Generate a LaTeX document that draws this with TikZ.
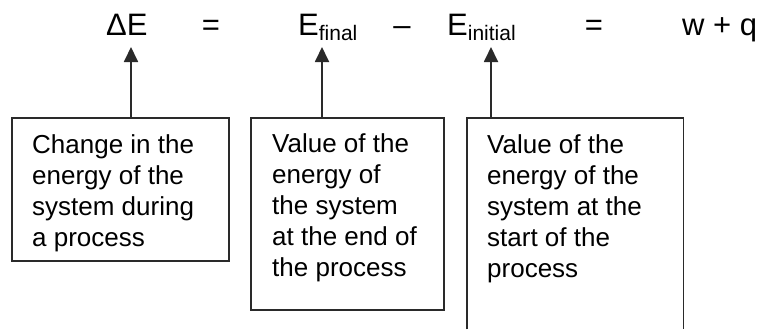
\documentclass[tikz,border=0pt]{standalone}
\usepackage{fontspec}
\setmainfont{Liberation Sans}
\usetikzlibrary{arrows.meta}
\definecolor{linegray}{HTML}{2A2A2A}
\tikzset{
  boxst/.style={draw=linegray, line width=1.6pt, rectangle, inner sep=0pt, anchor=north west},
  openbox/.style={rectangle, inner sep=0pt, anchor=north west},
  boxtext/.style={anchor=north west, inner sep=0pt, align=left, font=\fontsize{26}{31}\selectfont},
  eqtext/.style={inner sep=0pt, font=\fontsize{31}{31}\selectfont},
  arr/.style={draw=linegray, line width=1.8pt, -{Triangle[length=15pt,width=14pt]}},
}
\newcommand{\subtxt}[1]{\raisebox{-4.5pt}{\fontsize{21}{21}\selectfont #1}}
\begin{document}
\begin{tikzpicture}[x=1pt,y=-1pt]
\useasboundingbox (0,0) rectangle (762,329);
% equation
\node[eqtext, anchor=base west] (dE) at (106,36) {ΔE};
\node[eqtext, anchor=base] (eq1) at (211,36) {=};
\node[eqtext, anchor=base west] (Ef) at (298,36) {E\subtxt{final}};
\node[eqtext, anchor=base] (mi) at (402,36) {–};
\node[eqtext, anchor=base west] (Ei) at (447,36) {E\subtxt{initial}};
\node[eqtext, anchor=base] (eq2) at (594,36) {=};
\node[eqtext, anchor=base west] (wq) at (682,36) {w + q};
% boxes
\node[boxst, minimum width=217pt, minimum height=143pt] (b1) at (11,117) {};
\node[boxst, minimum width=193pt, minimum height=192pt] (b2) at (250,117) {};
\node[openbox, minimum width=216pt, minimum height=211pt] (b3) at (467,118) {};
\draw[linegray, line width=1.6pt] (b3.south west) -- (b3.north west) -- (b3.north east) -- (b3.south east);
% box texts
\node[boxtext] (t1) at (32,134) {Change in the\\energy of the\\system during\\a process};
\node[boxtext] (t2) at (272,133) {Value of the\\energy of\\the system\\at the end of\\the process};
\node[boxtext] (t3) at (487,134) {Value of the\\energy of the\\system at the\\start of the\\process};
% arrows
\coordinate (a1) at (131,47);
\coordinate (a2) at (322,47);
\coordinate (a3) at (491,47);
\draw[arr] (b1.north -| a1) -- (a1);
\draw[arr] (b2.north -| a2) -- (a2);
\draw[arr] (b3.north -| a3) -- (a3);
\end{tikzpicture}
\end{document}
